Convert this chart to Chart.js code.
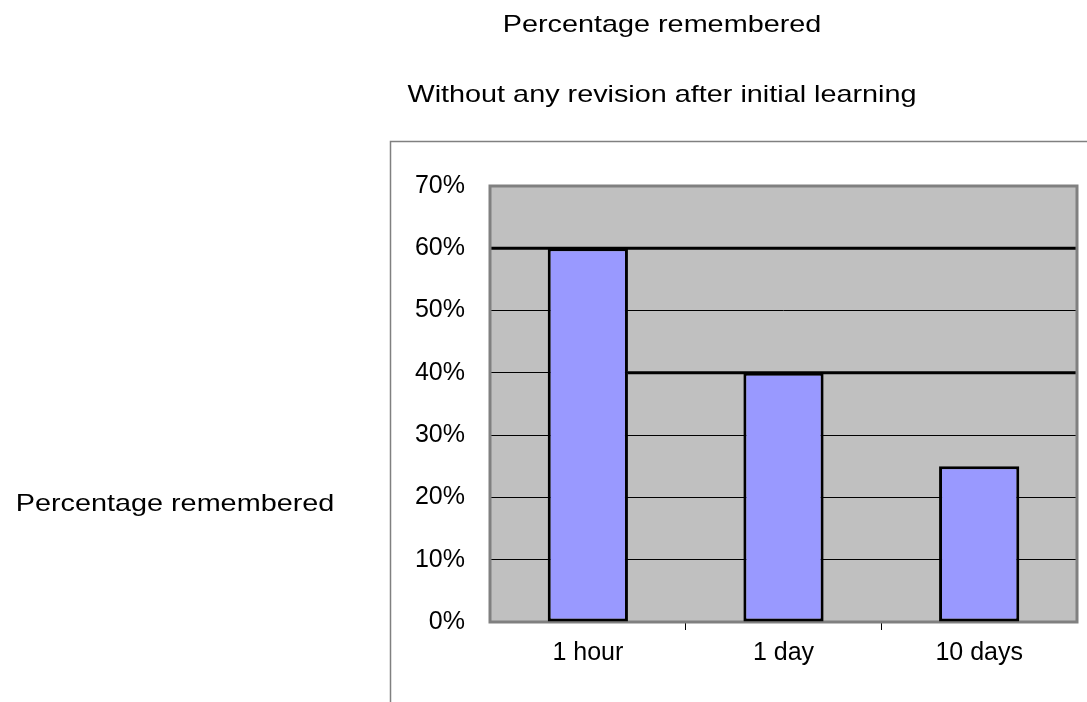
<!DOCTYPE html>
<html><head><meta charset="utf-8">
<script src="https://cdn.jsdelivr.net/npm/chart.js@4"></script>
<style>html,body{margin:0;padding:0;background:#fff;overflow:hidden}canvas{display:block}</style>
</head><body>
<canvas id="c" width="1087" height="702" style="width:1087px;height:702px"></canvas>
<script>
const categories = ['1 hour', '1 day', '10 days'];
const percentRemembered = [60, 40, 25];
const yTickValues = [0, 10, 20, 30, 40, 50, 60, 70];
const titleText = 'Percentage remembered';
const subtitleText = 'Without any revision after initial learning';
const axisTitleText = 'Percentage remembered';

const FONT = '"Liberation Sans", Arial, sans-serif';

function drawStretched(ctx, text, cx, baseline, sx, size) {
  ctx.save();
  ctx.font = size + 'px ' + FONT;
  ctx.fillStyle = '#000';
  ctx.translate(cx, baseline);
  ctx.scale(sx, 1);
  ctx.textAlign = 'center';
  ctx.textBaseline = 'alphabetic';
  ctx.fillText(text, 0, 0);
  ctx.restore();
}

const framePlugin = {
  id: 'frame',
  beforeDraw(chart) {
    const ctx = chart.ctx, a = chart.chartArea;
    ctx.save();
    ctx.fillStyle = '#fff';
    ctx.fillRect(0, 0, chart.width, chart.height);
    ctx.strokeStyle = '#808080';
    ctx.lineWidth = 1.5;
    ctx.beginPath();
    ctx.moveTo(390.5, chart.height + 2);
    ctx.lineTo(390.5, 141.5);
    ctx.lineTo(chart.width + 2, 141.5);
    ctx.stroke();
    ctx.fillStyle = '#C0C0C0';
    ctx.fillRect(a.left, a.top, a.right - a.left, a.bottom - a.top);
    ctx.restore();
  },
  beforeDatasetsDraw(chart) {
    const ctx = chart.ctx, a = chart.chartArea;
    const meta = chart.getDatasetMeta(0);
    const y = chart.scales.y;
    ctx.save();
    ctx.strokeStyle = '#000';
    ctx.lineWidth = 3;
    for (let i = 0; i < percentRemembered.length - 1; i++) {
      const py = y.getPixelForValue(percentRemembered[i]);
      let x0 = a.left;
      if (i > 0) { const b = meta.data[i - 1]; x0 = b.x + b.width / 2; }
      ctx.beginPath();
      ctx.moveTo(x0, py);
      ctx.lineTo(a.right, py);
      ctx.stroke();
    }
    ctx.strokeStyle = '#808080';
    ctx.lineWidth = 3;
    ctx.strokeRect(a.left, a.top, a.right - a.left, a.bottom - a.top);
    ctx.restore();
  },
  afterDraw(chart) {
    const ctx = chart.ctx;
    drawStretched(ctx, titleText, 662, 32, 1.2, 24);
    drawStretched(ctx, subtitleText, 662, 102, 1.2, 24);
    drawStretched(ctx, axisTitleText, 175, 511, 1.2, 24);
  }
};

new Chart(document.getElementById('c'), {
  type: 'bar',
  data: {
    labels: categories,
    datasets: [{
      data: percentRemembered,
      backgroundColor: '#9999FF',
      borderColor: '#000',
      borderWidth: 3,
      borderSkipped: false,
      barPercentage: 0.41,
      categoryPercentage: 1
    }]
  },
  options: {
    responsive: false,
    animation: false,
    devicePixelRatio: 1,
    layout: { padding: { top: 186, left: 0, right: 10, bottom: 0 } },
    plugins: { legend: { display: false }, title: { display: false }, tooltip: { enabled: false } },
    scales: {
      x: {
        offset: true,
        border: { display: false },
        grid: {
          display: true,
          drawOnChartArea: false,
          drawTicks: true,
          tickLength: 8,
          lineWidth: 1,
          color: (c) => (c.type !== 'tick' || c.index === 0 || c.index >= categories.length) ? 'rgba(0,0,0,0)' : '#000'
        },
        ticks: { color: '#000', font: { family: FONT, size: 25 }, padding: 8, maxRotation: 0 },
        afterFit: (s) => { s.height = 80; }
      },
      y: {
        min: yTickValues[0],
        max: yTickValues[yTickValues.length - 1],
        afterBuildTicks: (s) => { s.ticks = yTickValues.map(v => ({ value: v })); },
        border: { display: false },
        grid: { color: '#000', lineWidth: 1, drawTicks: false },
        ticks: { color: '#000', font: { family: FONT, size: 25 }, padding: 25, callback: (v) => v + '%' },
        afterFit: (s) => { s.width = 490; }
      }
    }
  },
  plugins: [framePlugin]
});
</script>
</body></html>
